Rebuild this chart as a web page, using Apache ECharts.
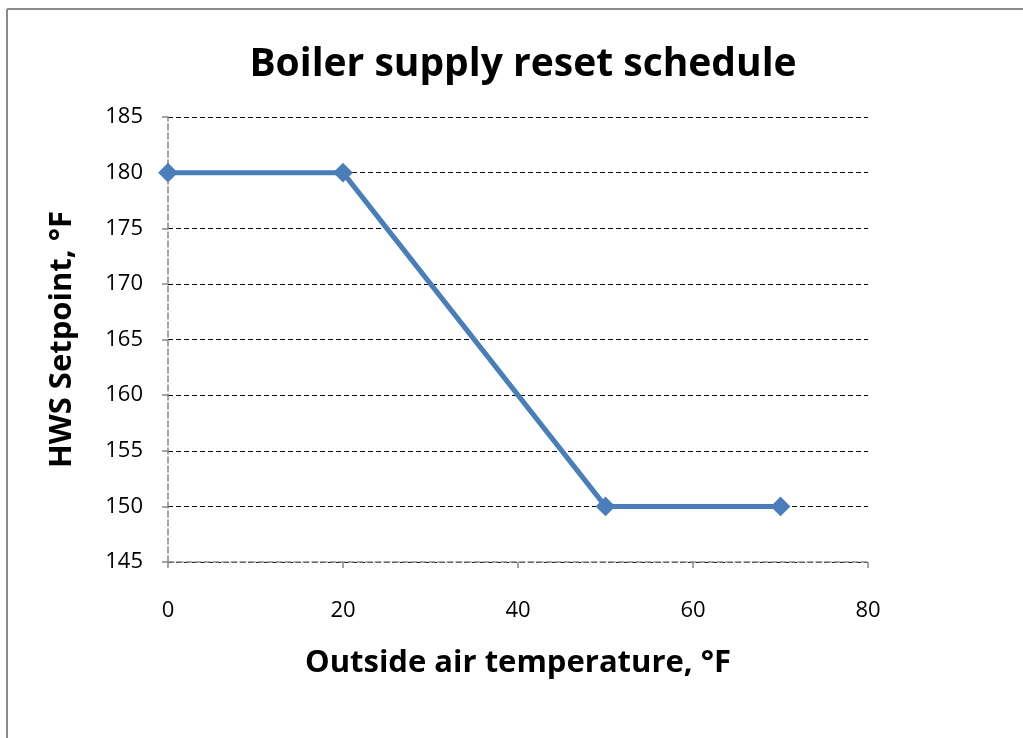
<!DOCTYPE html>
<html>
<head>
<meta charset="utf-8">
<script src="https://cdn.jsdelivr.net/npm/echarts@6/dist/echarts.min.js"></script>
<style>
  html, body { margin: 0; padding: 0; background: #fff; overflow: hidden; }
  #chart { width: 1023px; height: 738px; }
</style>
</head>
<body>
<div id="chart"></div>
<script>
// 室外温度 (°F)
const outsideTemps = [0, 20, 50, 70]
// 热水供水设定值 (°F)
const setpoints = [180, 180, 150, 150]

const font = '"Open Sans", "Noto Sans", sans-serif'

const chart = echarts.init(document.getElementById('chart'))

const option = {
  animation: false,
  backgroundColor: '#fff',
  title: {
    text: 'Boiler supply reset schedule',
    left: 518,
    top: 40,
    textAlign: 'center',
    textStyle: { fontFamily: font, fontWeight: 'bold', fontSize: 39, color: '#000' },
  },
  // 外框 (只露出上边和左边)
  graphic: [
    {
      type: 'line',
      shape: { x1: 7, y1: 9, x2: 1023, y2: 9 },
      style: { stroke: '#8c8c8c', lineWidth: 2 },
      silent: true,
    },
    {
      type: 'line',
      shape: { x1: 7, y1: 9, x2: 7, y2: 738 },
      style: { stroke: '#8c8c8c', lineWidth: 2 },
      silent: true,
    },
  ],
  grid: {
    left: 168,
    right: 155,
    top: 117,
    bottom: 176,
  },
  xAxis: {
    type: 'value',
    min: 0,
    max: 80,
    interval: 20,
    name: 'Outside air temperature, °F',
    nameLocation: 'middle',
    nameGap: 86,
    nameTextStyle: { fontFamily: font, fontWeight: 'bold', fontSize: 31, color: '#000' },
    axisLine: { show: true, lineStyle: { color: '#888', type: 'dashed', width: 1.5 } },
    axisTick: { show: true, length: 6, inside: false, lineStyle: { color: '#888', width: 1.5 } },
    axisLabel: { margin: 38, fontFamily: font, fontSize: 22, color: '#000' },
    splitLine: { show: false },
  },
  yAxis: {
    type: 'value',
    min: 145,
    max: 185,
    interval: 5,
    name: 'HWS Setpoint, °F',
    nameLocation: 'middle',
    nameGap: 90,
    nameTextStyle: { fontFamily: font, fontWeight: 'bold', fontSize: 31, color: '#000' },
    axisLine: { show: true, lineStyle: { color: '#888', type: 'dashed', width: 1.5 } },
    axisTick: { show: true, length: 6, lineStyle: { color: '#888', width: 1.5 } },
    axisLabel: { margin: 25, fontFamily: font, fontSize: 22, color: '#000' },
    splitLine: { show: true, lineStyle: { color: '#000', type: [5, 3], width: 1 } },
  },
  series: [
    {
      type: 'line',
      data: outsideTemps.map((t, i) => [t, setpoints[i]]),
      symbol: 'diamond',
      symbolSize: 17,
      itemStyle: { color: '#4a7ebb', borderColor: '#4a7ebb', borderWidth: 2 },
      lineStyle: { color: '#4a7ebb', width: 5 },
    },
  ],
}

chart.setOption(option)
</script>
</body>
</html>
